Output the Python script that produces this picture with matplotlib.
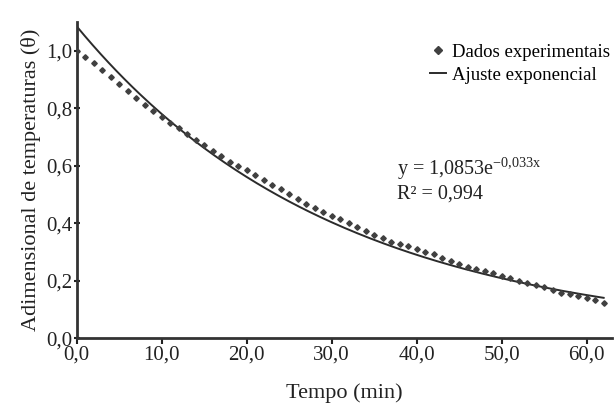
import numpy as np
import matplotlib
matplotlib.use('Agg')
import matplotlib.pyplot as plt

plt.rcParams['font.family'] = ['Liberation Serif', 'DejaVu Serif']
plt.rcParams['mathtext.fontset'] = 'custom'
plt.rcParams['mathtext.rm'] = 'Liberation Serif'
plt.rcParams['mathtext.it'] = 'Liberation Serif'

tempo = np.arange(0, 63)
theta = [1.000, 0.979, 0.958, 0.932, 0.909, 0.885, 0.859, 0.836, 0.812, 0.791,
         0.770, 0.749, 0.731, 0.711, 0.690, 0.672, 0.652, 0.633, 0.614, 0.599,
         0.585, 0.568, 0.551, 0.533, 0.518, 0.501, 0.483, 0.467, 0.452, 0.440,
         0.425, 0.414, 0.400, 0.386, 0.373, 0.359, 0.347, 0.336, 0.327, 0.320,
         0.310, 0.301, 0.292, 0.278, 0.267, 0.258, 0.249, 0.240, 0.233, 0.225,
         0.217, 0.208, 0.200, 0.193, 0.184, 0.177, 0.166, 0.157, 0.152, 0.147,
         0.138, 0.132, 0.121]

# exponential fit coefficients (from the equation in the chart)
a_fit = 1.0853
k_fit = 0.033

x_ticks = [0, 10, 20, 30, 40, 50, 60]
x_labels = ['0,0', '10,0', '20,0', '30,0', '40,0', '50,0', '60,0']
y_ticks = [0.0, 0.2, 0.4, 0.6, 0.8, 1.0]
y_labels = ['0,0', '0,2', '0,4', '0,6', '0,8', '1,0']

fig = plt.figure(figsize=(6.14, 4.03), dpi=100)
ax = fig.add_axes([0.125, 0.161, 0.872, 0.784])

x_fit = np.linspace(0, 62, 200)
ax.plot(x_fit, a_fit * np.exp(-k_fit * x_fit), color='#2b2b2b', lw=1.4,
        label='Ajuste exponencial', zorder=2)
ax.plot(tempo, theta, linestyle='none', marker='D', markersize=2.8,
        color='#404040', label='Dados experimentais', zorder=3)

ax.set_xlim(0, 63)
ax.set_ylim(0, 1.10)
ax.set_xticks(x_ticks)
ax.set_xticklabels(x_labels)
ax.set_yticks(y_ticks)
ax.set_yticklabels(y_labels)
ax.tick_params(labelsize=15, colors='#222222', length=4, width=1.5,
               direction='inout', pad=1)
ax.tick_params(axis='x', direction='out', length=4)

for side in ['top', 'right']:
    ax.spines[side].set_visible(False)
for side in ['left', 'bottom']:
    ax.spines[side].set_linewidth(2)
    ax.spines[side].set_color('#333333')

ax.set_xlabel('Tempo (min)', fontsize=16, color='#222222', labelpad=14)
ax.set_ylabel('Adimensional de temperaturas (θ)', fontsize=16,
              color='#222222', labelpad=4)

handles, labels = ax.get_legend_handles_labels()
ax.legend(handles[::-1], labels[::-1], loc='upper right', frameon=False,
          fontsize=13.5, handlelength=0.9, handletextpad=0.3, labelspacing=0.3,
          borderaxespad=0.0, bbox_to_anchor=(1.01, 0.955), markerscale=1.4)

ax.text(0.598, 0.535, 'y = 1,0853e$^{\\mathrm{-0{,}033x}}$', fontsize=14.5,
        color='#222222', transform=ax.transAxes, va='center')
ax.text(0.598, 0.456, 'R² = 0,994', fontsize=14.5, color='#222222',
        transform=ax.transAxes, va='center')

fig.savefig('out.png', dpi=100)
